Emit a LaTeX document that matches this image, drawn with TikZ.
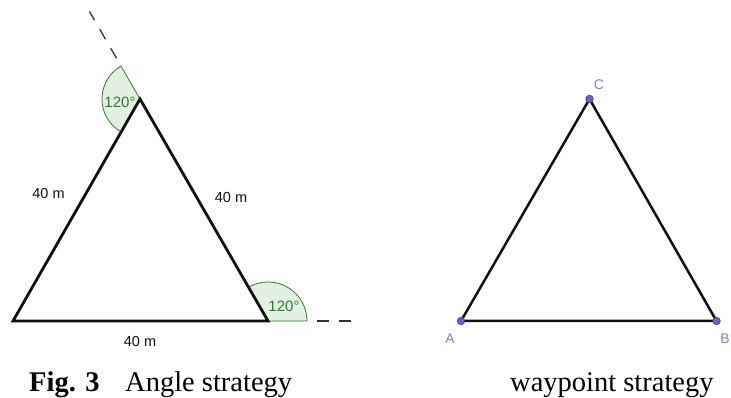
\documentclass[tikz,border=0pt]{standalone}
\usepackage{fontspec}
\setmainfont{Liberation Serif}
\setsansfont{Liberation Sans}
\usetikzlibrary{calc}
\definecolor{gside}{HTML}{111111}
\definecolor{gdash}{HTML}{333333}
\definecolor{ggreen}{HTML}{2F7A2F}
\definecolor{gfill}{HTML}{E2F0E2}
\definecolor{gpoint}{HTML}{6464C8}
\definecolor{gptline}{HTML}{3C3C96}
\definecolor{glabel}{HTML}{8282CC}
\tikzset{
  every picture/.style={x=1pt, y=1pt},
  side/.style={draw=gside, line width=2.8pt, line join=miter},
  ext/.style={draw=gdash, line width=1.3pt, dash pattern=on 11.5pt off 10.5pt},
  sector/.style={draw=ggreen, fill=gfill, line width=0.8pt},
  angle/.style={text=ggreen, font=\sffamily\fontsize{15}{16}\selectfont, inner sep=0pt},
  len/.style={text=gside, font=\sffamily\fontsize{14.5}{15}\selectfont, inner sep=0pt},
  pt/.style={fill=gpoint, draw=gptline, line width=0.6pt},
  ptlabel/.style={text=glabel, font=\sffamily\fontsize{14}{15}\selectfont, inner sep=0pt},
  caption/.style={font=\fontsize{28.5}{30}\selectfont, anchor=base west, inner sep=0pt},
}
\begin{document}
\begin{tikzpicture}
  \useasboundingbox (0,0) rectangle (731,398);
  \coordinate (l1) at (13,77);
  \coordinate (l2) at (268,77);
  \coordinate (l3) at (140,299);
  \coordinate (a) at (461,77);
  \coordinate (b) at (716.5,77);
  \coordinate (c) at (589.5,299);
  \filldraw[sector] (l3) -- ++(120:38) arc[start angle=120, end angle=240, radius=38] -- cycle;
  \filldraw[sector] (l2) -- ++(0:39) arc[start angle=0, end angle=120, radius=39] -- cycle;
  \coordinate (t1) at ($(l3)+(120:47)$);
  \coordinate (t2) at ($(l3)+(120:101)$);
  \coordinate (r1) at ($(l2)+(49,0)$);
  \coordinate (r2) at ($(l2)+(84,0)$);
  \draw[ext] (t1) -- (t2);
  \draw[ext, dash pattern=on 12pt off 10pt] (r1) -- (r2);
  \draw[side] (l1) -- (l2) -- (l3) -- cycle;
  \draw[side, line width=2.5pt] (a) -- (b) -- (c) -- cycle;
  \foreach \p in {a,b,c} \filldraw[pt] (\p) circle (3.8);
  \node[angle] (ang1) at (120,295.5) {120°};
  \node[angle] (ang2) at (284,92) {120°};
  \node[len] (len1) at (48.5,204) {40 m};
  \node[len] (len2) at (231,200) {40 m};
  \node[len] (len3) at (140,56) {40 m};
  \node[ptlabel] (la) at (450,59) {A};
  \node[ptlabel] (lb) at (725,59) {B};
  \node[ptlabel] (lc) at (599,313) {C};
  \node[caption] (fig) at (29,6) {\textbf{Fig. 3}};
  \node[caption] (cap1) at (125,6) {Angle strategy};
  \node[caption] (cap2) at (510,6) {waypoint strategy};
\end{tikzpicture}
\end{document}
